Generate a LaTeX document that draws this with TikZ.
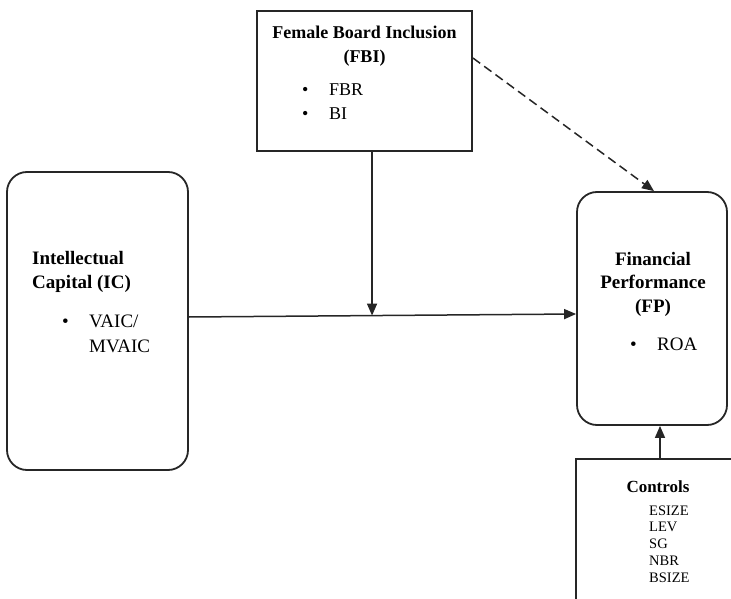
\documentclass[tikz,border=0pt]{standalone}
\usepackage{fontspec}
\setmainfont{Liberation Serif}
\usepackage{tikz}
\usetikzlibrary{arrows.meta,positioning,calc}

\tikzset{
  box/.style={draw=black!85, line width=1.8pt},
  roundbox/.style={box, rounded corners=20pt},
  titletext/.style={font=\fontsize{18}{23.5}\selectfont\bfseries, inner sep=0pt},
  bigtitle/.style={titletext, font=\fontsize{19}{23.5}\selectfont\bfseries},
  listtext/.style={font=\fontsize{18}{24}\selectfont, inner sep=0pt, align=left},
  arr/.style={line width=1.5pt, draw=black!85, -{Triangle[length=12pt,width=10pt]}}
}
\newcommand{\bul}{\makebox[27pt][l]{\textbullet}}

\begin{document}
\begin{tikzpicture}[x=1pt, y=-1pt]
    \useasboundingbox (0,0) rectangle (731,599);
    \clip (0,0) rectangle (731,599);

    % Boxes
    \node[box, minimum width=215pt, minimum height=140pt] (fbi) at (364.5, 81) {};
    \node[roundbox, minimum width=181pt, minimum height=298pt] (ic) at (97.5, 321) {};
    \node[roundbox, minimum width=150pt, minimum height=233pt] (fp) at (652, 308.5) {};
    \node[box, minimum width=168pt, minimum height=190pt] (ctrl) at (660, 554) {};

    % Texts: FBI (base = last line)
    \node[titletext, align=center, anchor=base] (fbi_title) at (364.5, 62.5) {Female Board Inclusion\\(FBI)};
    \node[listtext, anchor=base west] (fbi_list) at (302, 120) {\bul FBR\\\bul BI};

    % Texts: IC
    \node[bigtitle, align=left, anchor=base west] (ic_title) at (32, 288) {Intellectual\\Capital (IC)};
    \node[listtext, anchor=base west, font=\fontsize{19}{25}\selectfont] (ic_list) at (62, 352) {\bul VAIC/\\\hspace{27pt}MVAIC};

    % Texts: FP
    \node[bigtitle, align=center, anchor=base] (fp_title) at (653, 312) {Financial\\Performance\\(FP)};
    \node[listtext, anchor=base west, font=\fontsize{19}{24}\selectfont] (fp_list) at (630, 350) {\bul ROA};

    % Texts: Controls
    \node[titletext, font=\fontsize{17}{20}\selectfont\bfseries, anchor=base] (ctrl_title) at (658, 492) {Controls};
    \node[listtext, font=\fontsize{14.5}{16.7}\selectfont, anchor=base west] (ctrl_list) at (649, 582) {ESIZE\\LEV\\SG\\NBR\\BSIZE};

    % Connectors
    \coordinate (icout) at ([yshift=4pt]ic.east);
    \coordinate (fpin) at ([yshift=-5.5pt]fp.west);
    \coordinate (mid) at ($(icout)!0.473!(fpin)$);
    \draw[arr] (icout) -- (fpin);
    \draw[arr] (fbi.south -| mid) -- (mid);
    \draw[arr, dashed, dash pattern=on 9pt off 5pt] ([yshift=23pt]fbi.east) -- ([xshift=2pt]fp.north);
    \draw[arr] (ctrl.north) -- (ctrl.north |- fp.south);
\end{tikzpicture}
\end{document}
